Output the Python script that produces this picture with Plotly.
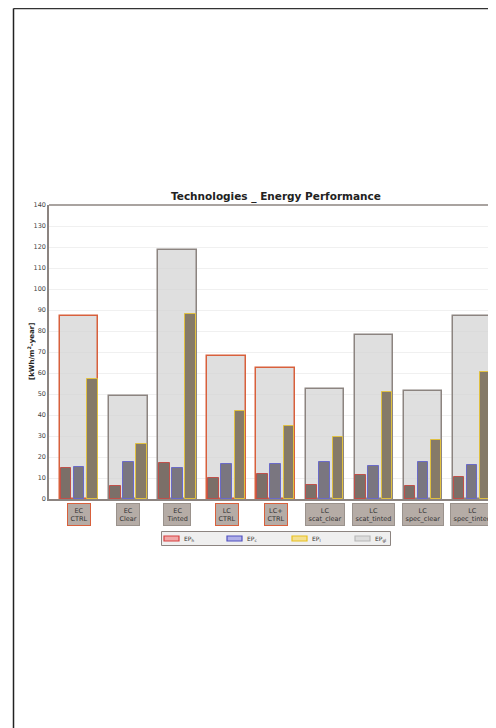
import plotly.graph_objects as go

categories = ["EC<br>CTRL", "EC<br>Clear", "EC<br>Tinted", "LC<br>CTRL", "LC+<br>CTRL",
              "LC<br>scat_clear", "LC<br>scat_tinted", "LC<br>spec_clear", "LC<br>spec_tinted"]
ep_gl = [87, 49, 118.5, 68, 62.5, 52.5, 78, 51.5, 87]
ep_h = [15, 6, 17, 10, 11.7, 6.7, 11.4, 6.3, 10.5]
ep_c = [15.4, 17.8, 14.6, 16.8, 16.5, 17.4, 15.9, 17.4, 16.2]
ep_l = [57.3, 26, 88, 42, 34.6, 29.5, 51, 28.2, 60.5]
is_ctrl = [True, False, False, True, True, False, False, False, False]
y_ticks = list(range(0, 150, 10))
legend_names = ["EP<sub>h</sub>", "EP<sub>c</sub>", "EP<sub>l</sub>", "EP<sub>gl</sub>"]

xs = list(range(len(categories)))
fig = go.Figure()

edge_gray = "#8c8480"
edge_red = "#d8603c"

fig.add_trace(go.Bar(
    x=xs, y=ep_gl, width=0.78, offset=-0.39, name=legend_names[3],
    marker=dict(color="rgba(210,210,210,0.72)",
                line=dict(color=[edge_red if c else edge_gray for c in is_ctrl], width=1.5)),
    showlegend=False, hoverinfo="y"))

inner = [(ep_h, legend_names[0], "#7b6f68", "#c0504a", -0.373),
         (ep_c, legend_names[1], "#7a7680", "#6a6ac8", -0.108),
         (ep_l, legend_names[2], "#857a68", "#e0c040", 0.163)]
for vals, name, fill, edge, off in inner:
    fig.add_trace(go.Bar(x=xs, y=vals, width=0.214, offset=off, name=name,
                         marker=dict(color=fill, line=dict(color=edge, width=1)),
                         showlegend=False, hoverinfo="y"))

# page has an 8px body margin: work in page pixels and subtract it
OFF = 8
W, H = 496 - OFF, 728 - OFF
L, R, T, B = 49 - OFF, 496 - OFF, 205 - OFF, 499 - OFF
def px_x(p):
    return (p - OFF - L) / (R - L)
def px_y(p):
    return (B - (p - OFF)) / (B - T)

for i, cat in enumerate(categories):
    fig.add_annotation(x=i, xref="x", y=px_y(503), yref="paper", yanchor="top",
                       text=cat, showarrow=False,
                       font=dict(family="DejaVu Sans", size=6.5, color="#333333"),
                       bgcolor="#b5aca6", bordercolor=edge_red if is_ctrl[i] else "#9a928c",
                       borderwidth=1, borderpad=2.5)

fig.add_annotation(x=px_x(276), xref="paper", y=1.0, yref="paper", yanchor="bottom",
                   text="<b>Technologies _ Energy Performance</b>", showarrow=False,
                   font=dict(family="DejaVu Sans", size=10.5, color="#222222"))

fig.add_annotation(x=px_x(24), xref="paper", y=0.5, yref="paper", textangle=-90,
                   text="<b>[kWh/m<sup>2</sup>-year]</b>", showarrow=False,
                   font=dict(family="DejaVu Sans", size=7, color="#222222"))

# legend (drawn manually to match the compact box)
fig.add_shape(type="rect", xref="paper", yref="paper",
              x0=px_x(161.5), x1=px_x(390.5), y0=px_y(531.5), y1=px_y(545.5),
              fillcolor="#efefef", line=dict(color="#8c8480", width=1))
legend_style = [("#f0a8a8", "#d84040", 164), ("#b0b0e8", "#5050c0", 227),
                ("#f4e090", "#e8c020", 292), ("#dcdcdc", "#b8b8b8", 355)]
for name, (fill, edge, x0) in zip(legend_names, legend_style):
    fig.add_shape(type="rect", xref="paper", yref="paper",
                  x0=px_x(x0), x1=px_x(x0 + 15), y0=px_y(536), y1=px_y(541),
                  fillcolor=fill, line=dict(color=edge, width=1.2))
    fig.add_annotation(x=px_x(x0 + 18), xref="paper", y=px_y(538.5), yref="paper",
                       xanchor="left", yanchor="middle", text=name, showarrow=False,
                       font=dict(family="DejaVu Sans", size=6, color="#333333"))

# page frame
fig.add_shape(type="line", xref="paper", yref="paper",
              x0=px_x(13.5), x1=px_x(500), y0=px_y(8.5), y1=px_y(8.5),
              line=dict(color="#333333", width=1.5))
fig.add_shape(type="line", xref="paper", yref="paper",
              x0=px_x(13.5), x1=px_x(13.5), y0=px_y(8.5), y1=px_y(730),
              line=dict(color="#222222", width=1.5))
# top plot border
fig.add_shape(type="line", xref="paper", yref="paper",
              x0=0, x1=1, y0=1, y1=1, line=dict(color=edge_gray, width=1.5))

fig.update_layout(
    width=W, height=H,
    margin=dict(l=L, r=W - R, t=T, b=H - B),
    paper_bgcolor="white", plot_bgcolor="white",
    barmode="overlay", bargap=0,
    showlegend=False,
    xaxis=dict(range=[-0.617, 8.49], showticklabels=False, ticks="",
               showgrid=False, showline=True, linecolor=edge_gray, linewidth=1.5,
               zeroline=False),
    yaxis=dict(range=[0, 140], tickvals=y_ticks, showline=True, linecolor=edge_gray,
               linewidth=1.5, showgrid=True, gridcolor="#f0f0f0", gridwidth=1,
               zeroline=False, ticks="", ticklen=0,
               tickfont=dict(family="DejaVu Sans", size=6.5, color="#444444")),
)

fig.write_html("out.html")
